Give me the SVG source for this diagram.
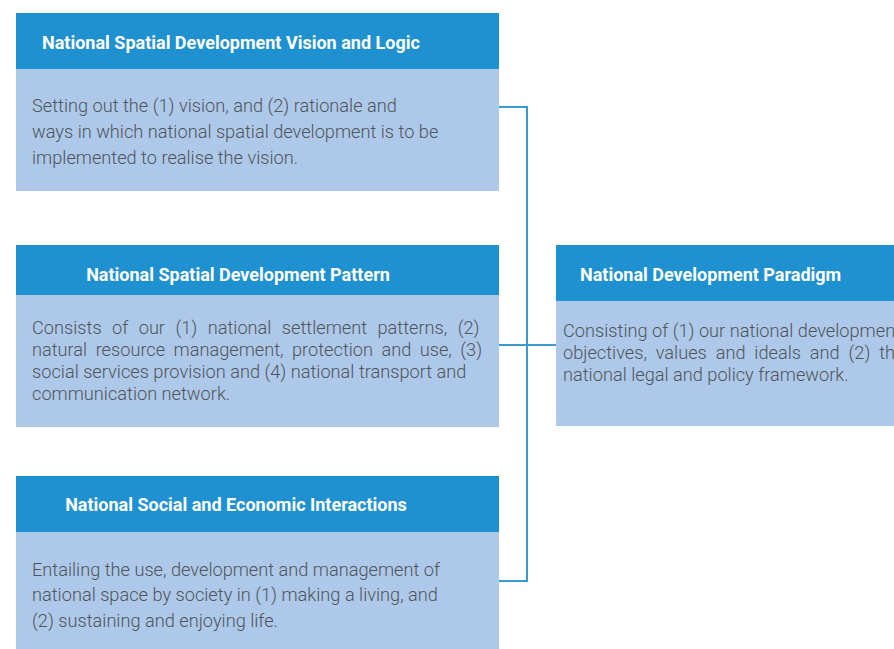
<svg xmlns="http://www.w3.org/2000/svg" width="894" height="649" viewBox="0 0 894 649">
  <style>
    .hd { fill: #1f91d1; }
    .bd { fill: #adc8e8; }
    .title { font-family: Roboto, "Liberation Sans", sans-serif; font-weight: bold; font-size: 18px; fill: #ffffff; }
    .txt { font-family: Roboto, "Liberation Sans", sans-serif; font-weight: 300; font-size: 18.2px; fill: #4f555c; }
    .link { fill: none; stroke: #3a9ad2; stroke-width: 2; }
  </style>
  <rect x="0" y="0" width="894" height="649" fill="#ffffff"/>

  <g id="connectors">
    <path class="link" d="M499 107 H527 V581 H499"/>
    <path class="link" d="M499 345 H556"/>
  </g>

  <g id="vision">
    <rect class="bd" x="16" y="69" width="483" height="122"/>
    <rect class="hd" x="16" y="13" width="483" height="56"/>
    <text class="title" x="42" y="49">National Spatial Development Vision and Logic</text>
    <text class="txt" x="32" y="112">Setting out the (1) vision, and (2) rationale and</text>
    <text class="txt" x="32" y="138">ways in which national spatial development is to be</text>
    <text class="txt" x="32" y="164">implemented to realise the vision.</text>
  </g>

  <g id="pattern">
    <rect class="bd" x="16" y="295" width="483" height="132"/>
    <rect class="hd" x="16" y="245" width="483" height="50"/>
    <text class="title" x="238" y="281" text-anchor="middle">National Spatial Development Pattern</text>
    <text class="txt" x="32" y="334" word-spacing="6">Consists of our (1) national settlement patterns, (2)</text>
    <text class="txt" x="32" y="356" word-spacing="4">natural resource management, protection and use, (3)</text>
    <text class="txt" x="32" y="378">social services provision and (4) national transport and</text>
    <text class="txt" x="32" y="400">communication network.</text>
  </g>

  <g id="interactions">
    <rect class="bd" x="16" y="532" width="483" height="117"/>
    <rect class="hd" x="16" y="476" width="483" height="56"/>
    <text class="title" x="236" y="511" text-anchor="middle">National Social and Economic Interactions</text>
    <text class="txt" x="32" y="576">Entailing the use, development and management of</text>
    <text class="txt" x="32" y="601">national space by society in (1) making a living, and</text>
    <text class="txt" x="32" y="627">(2) sustaining and enjoying life.</text>
  </g>

  <g id="paradigm">
    <rect class="bd" x="556" y="301" width="338" height="125"/>
    <rect class="hd" x="556" y="245" width="338" height="56"/>
    <text class="title" x="580" y="281">National Development Paradigm</text>
    <text class="txt" x="563" y="337">Consisting of (1) our national development</text>
    <text class="txt" x="563" y="359" word-spacing="4.4">objectives, values and ideals and (2) the</text>
    <text class="txt" x="563" y="381">national legal and policy framework.</text>
  </g>
</svg>
